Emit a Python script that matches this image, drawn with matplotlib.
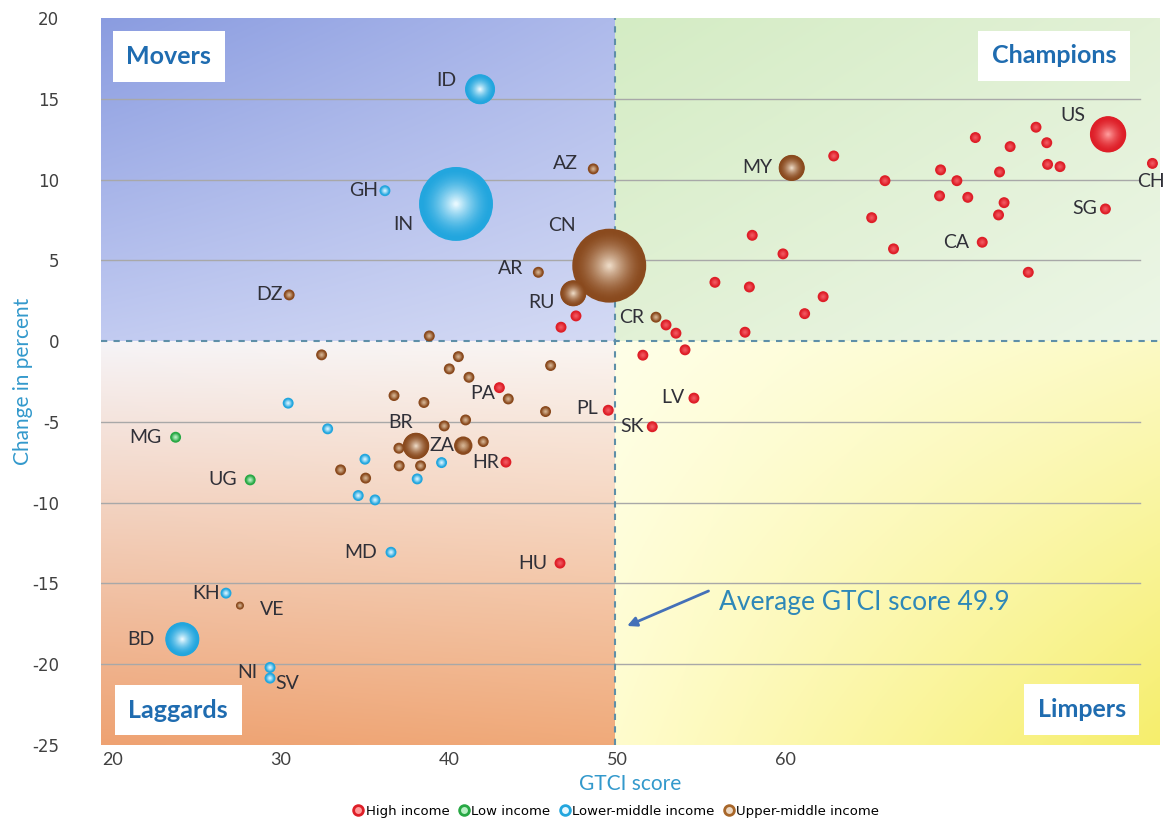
import numpy as np
import matplotlib
matplotlib.use('Agg')
import matplotlib.pyplot as plt
from matplotlib.lines import Line2D
from matplotlib.colors import to_rgb

plt.rcParams['axes.unicode_minus'] = False

# ---- data ----
AVG_SCORE = 49.9

# High income
high_label = ['', '', '', '', '', '', '', 'US', 'CH', '', '', '', '', '', '', '', '', 'SG', '',
              'CA', '', '', '', '', '', '', '', '', '', '', '', '', '', '', '',
              'PA', 'PL', 'LV', 'SK', 'HR', 'HU']
high_score = [62.9, 71.33, 73.4, 74.94, 75.58, 75.63, 76.37, 79.23, 81.87, 69.26, 70.23, 72.77,
              65.95, 69.2, 70.88, 73.04, 72.71, 79.07, 65.16, 71.74, 58.05, 59.88, 66.46, 74.48,
              55.83, 57.88, 62.27, 61.17, 57.62, 52.92, 53.51, 54.05, 51.54, 47.56, 46.67,
              43.0, 49.48, 54.58, 52.1, 43.39, 46.61]
high_change = [11.46, 12.6, 12.04, 13.24, 12.28, 10.94, 10.8, 12.8, 11.0, 10.6, 9.93, 10.47,
               9.93, 8.99, 8.9, 8.57, 7.81, 8.18, 7.64, 6.12, 6.55, 5.4, 5.71, 4.26,
               3.64, 3.35, 2.75, 1.7, 0.55, 1.0, 0.49, -0.54, -0.87, 1.56, 0.86,
               -2.88, -4.28, -3.53, -5.3, -7.49, -13.74]
high_size = [30] * len(high_score)
high_size[7] = 330  # US

# Low income
low_label = ['MG', 'UG']
low_score = [23.73, 28.17]
low_change = [-5.95, -8.59]
low_size = [30, 30]

# Lower-middle income
lm_label = ['ID', 'IN', 'GH', '', '', '', '', '', '', '', 'MD', 'KH', 'BD', 'NI', 'SV']
lm_score = [41.85, 40.42, 36.19, 30.43, 32.78, 35.0, 39.56, 38.11, 34.6, 35.6,
            36.55, 26.73, 24.13, 29.35, 29.35]
lm_change = [15.59, 8.49, 9.31, -3.84, -5.43, -7.31, -7.52, -8.53, -9.56, -9.83,
             -13.07, -15.6, -18.45, -20.2, -20.86]
lm_size = [225, 1369, 30, 30, 30, 30, 30, 30, 30, 30, 30, 30, 290, 30, 30]

# Upper-middle income
um_label = ['AZ', 'CN', 'AR', 'RU', 'DZ', '', 'CR', 'MY', '', '', '', '', '', '', '', '',
            '', '', '', '', 'BR', 'ZA', '', '', '', '', '', 'VE']
um_score = [48.59, 49.54, 45.32, 47.4, 30.49, 38.83, 52.32, 60.4, 32.42, 40.56, 40.02, 46.05,
            41.19, 43.53, 36.73, 38.51, 45.75, 40.99, 39.72, 37.02, 38.04, 40.85, 42.04,
            37.04, 38.31, 33.55, 35.04, 27.56]
um_change = [10.66, 4.67, 4.26, 2.96, 2.86, 0.32, 1.48, 10.72, -0.85, -0.96, -1.72, -1.51,
             -2.24, -3.58, -3.37, -3.8, -4.36, -4.88, -5.25, -6.63, -6.49, -6.47, -6.22,
             -7.72, -7.72, -7.97, -8.48, -16.37]
um_size = [30, 1369, 30, 170, 30, 30, 30, 170, 30, 30, 30, 30, 30, 30, 30, 30,
           30, 30, 30, 30, 175, 85, 30, 30, 30, 30, 30, 16]

# name, labels, x, y, size, base colour, centre colour, centre colour for small dots
groups = [
    ('High income', high_label, high_score, high_change, high_size, '#DE1F28', '#FF9A9A', '#F25860'),
    ('Low income', low_label, low_score, low_change, low_size, '#27A844', '#B8F0C4', '#B8F0C4'),
    ('Lower-middle income', lm_label, lm_score, lm_change, lm_size, '#22A6DE', '#E6F8FF', '#D2F2FF'),
    ('Upper-middle income', um_label, um_score, um_change, um_size, '#8A4A1E', '#EBD7C2', '#D2B08E'),
]

# label placement (text centre relative to the point, in pixels)
label_offset = {
    'ID': (-34, -9), 'IN': (-53, 21), 'GH': (-21, 0), 'AZ': (-28, -5), 'CN': (-47, -40),
    'AR': (-28, -4), 'RU': (-32, 9), 'DZ': (-20, 0), 'CR': (-24, 0), 'MY': (-34, 0),
    'US': (-35, -19), 'CH': (-2, 18), 'SG': (-21, 0), 'CA': (-26, 0), 'PA': (-17, 6),
    'PL': (-21, -2), 'LV': (-21, -1), 'SK': (-20, 0), 'BR': (-15, -23), 'ZA': (-21, 0),
    'HR': (-20, 0), 'MG': (-30, 0), 'UG': (-28, 0), 'MD': (-30, 0), 'HU': (-27, 0),
    'KH': (-20, 0), 'VE': (32, 4), 'BD': (-41, 0), 'NI': (-23, 5), 'SV': (17, 5),
}

XMIN, XMAX = 19.29, 82.32
YMIN, YMAX = -25, 20


def gradient(tl, tr, bl, br, n=200):
    tl, tr, bl, br = [np.array(c, dtype=float) / 255 for c in (tl, tr, bl, br)]
    u = np.linspace(0, 1, n)[None, :, None]
    v = np.linspace(0, 1, n)[:, None, None]
    top = tl * (1 - u) + tr * u
    bot = bl * (1 - u) + br * u
    return top * (1 - v) + bot * v


def draw_bubble(ax, x, y, size, base, light, small_light):
    big = size > 100
    n = 36 if big else 8
    fr = np.linspace(1.0, 0.05 if big else 0.15, n)
    b = np.array(to_rgb(base))
    l = np.array(to_rgb(light if big else small_light))
    if big:
        t = np.clip((0.95 - fr) / 0.9, 0, 1) ** 1.6
    else:
        t = np.clip((0.8 - fr) / 0.65, 0, 1) ** 0.8
    cols = b[None, :] * (1 - t[:, None]) + l[None, :] * t[:, None]
    ax.scatter(np.full(n, x), np.full(n, y), s=size * 2.07 * fr ** 2,
               c=cols, edgecolors='none', zorder=3)


fig = plt.figure(figsize=(11.68, 8.22), dpi=100)
ax = fig.add_axes([101 / 1168, 1 - 745 / 822, 1059 / 1168, 727 / 822])

# quadrant backgrounds
ax.imshow(gradient((138, 156, 224), (174, 186, 235), (194, 203, 241), (212, 218, 244)),
          extent=(XMIN, AVG_SCORE, 0, YMAX), aspect='auto', zorder=0)
ax.imshow(gradient((212, 236, 196), (226, 241, 214), (226, 241, 214), (236, 246, 230)),
          extent=(AVG_SCORE, XMAX, 0, YMAX), aspect='auto', zorder=0)
ax.imshow(gradient((246, 244, 247), (250, 245, 242), (238, 162, 114), (240, 170, 122)),
          extent=(XMIN, AVG_SCORE, YMIN, 0), aspect='auto', zorder=0)
ax.imshow(gradient((255, 255, 232), (252, 250, 196), (255, 252, 205), (246, 238, 108)),
          extent=(AVG_SCORE, XMAX, YMIN, 0), aspect='auto', zorder=0)

ax.set_xlim(XMIN, XMAX)
ax.set_ylim(YMIN, YMAX)

# gridlines
for yv in [15, 10, 5, -5, -10, -15, -20]:
    ax.axhline(yv, xmin=0, xmax=0.981, color='#A8A8A8', lw=1, zorder=1)
ax.axhline(0, color='#5E8FA8', lw=1.5, ls=(0, (3, 3)), zorder=2)
ax.axvline(AVG_SCORE, color='#5E8FA8', lw=1.5, ls=(0, (3, 3)), zorder=2)

# bubbles, largest first so small ones stay on top
pts = []
for name, lab, sx, sy, sz, base, light, slight in groups:
    for i in range(len(sx)):
        pts.append((sz[i], sx[i], sy[i], lab[i], base, light, slight))
pts.sort(key=lambda p: -p[0])
for sz, x, y, lab, base, light, slight in pts:
    draw_bubble(ax, x, y, sz, base, light, slight)
    if lab:
        dx, dy = label_offset.get(lab, (-20, 0))
        ax.annotate(lab, (x, y), xytext=(dx * 0.72, -dy * 0.72), textcoords='offset points',
                    ha='center', va='center', fontsize=14, family='Lato',
                    color='#303038', zorder=5)

# quadrant labels
quad_kw = dict(transform=ax.transAxes, ha='center', va='center', fontsize=18,
               fontweight='bold', family='Lato', color='#1F6CB0', zorder=6,
               bbox=dict(boxstyle='square,pad=0.55', facecolor='white', edgecolor='none'))
ax.text(0.064, 0.947, 'Movers', **quad_kw)
ax.text(0.900, 0.948, 'Champions', **quad_kw)
ax.text(0.073, 0.048, 'Laggards', **quad_kw)
ax.text(0.926, 0.049, 'Limpers', **quad_kw)

# average annotation
ax.annotate('', xy=(50.45, -17.7), xytext=(55.6, -15.4),
            arrowprops=dict(arrowstyle='-|>', color='#4470B8', lw=2, mutation_scale=14),
            zorder=6)
ax.text(56.1, -16.15, 'Average GTCI score 49.9', fontsize=19, family='Lato',
        color='#2E88B8', ha='left', va='center', zorder=6)

# axes
for s in ax.spines.values():
    s.set_visible(False)
ax.set_xticks([20, 30, 40, 50, 60])
ax.set_yticks(np.arange(-25, 21, 5))
ax.tick_params(axis='both', length=0)
ax.tick_params(axis='x', pad=5, labelsize=13, labelcolor='#404040')
ax.tick_params(axis='y', pad=30, labelsize=12, labelcolor='#404040')
for t in ax.get_xticklabels():
    t.set_family('Lato')

ax.set_xlabel('GTCI score', fontsize=15, family='Lato', color='#3399CC')
ax.xaxis.set_label_coords(0.5, -0.04)
ax.set_ylabel('Change in percent', fontsize=15, family='Lato', color='#3399CC')
ax.yaxis.set_label_coords(-0.064, 0.5)

handles = [Line2D([], [], marker='o', ls='', markersize=7, markerfacecolor=g[6],
                  markeredgecolor=g[5], markeredgewidth=2) for g in groups]
handles[3].set_markeredgecolor('#A8672A')
fig.legend(handles, [g[0] for g in groups], loc='center', bbox_to_anchor=(0.527, 0.013),
           ncol=4, frameon=False, fontsize=9.5, handletextpad=0.05, columnspacing=0.6,
           handlelength=1.0, borderpad=0)

fig.savefig('out.png', dpi=100, facecolor='white')
